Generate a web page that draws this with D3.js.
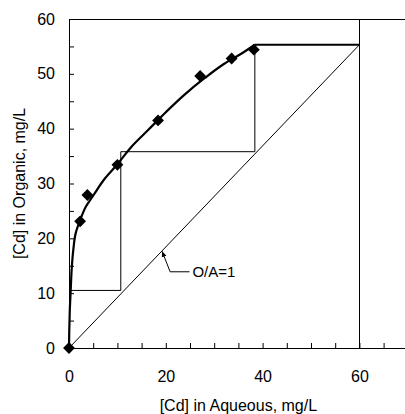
<!DOCTYPE html>
<html>
<head>
<meta charset="utf-8">
<script src="https://cdn.jsdelivr.net/npm/d3@7"></script>
<style>
  body { margin: 0; background: #fff; }
  svg { display: block; }
  text { font-family: "Liberation Sans", Arial, sans-serif; fill: #000; }
</style>
</head>
<body>
<div id="chart"></div>
<script>
// measured equilibrium points (Cd aqueous vs organic, mg/L)
const aqueous = [0, 2.3, 3.8, 10, 18.4, 27.1, 33.6, 38.2];
const organic = [0, 23.1, 27.9, 33.4, 41.5, 49.6, 52.8, 54.4];

// fitted isotherm
const curveX = [0, 0.05, 0.15, 0.35, 0.6, 0.9, 1.4, 2.3, 3.5, 5, 7.5, 10, 13, 16.4, 20, 24, 28, 32, 36, 38.4, 60];
const curveY = [0, 3, 6.5, 10.5, 15, 18, 21, 23.3, 25.8, 27.8, 31, 33.5, 36.8, 39.8, 43, 46.3, 49.2, 51.8, 53.9, 55.3, 55.3];

// operating line O/A = 1 and the stage construction
const opLineX = [0, 60];
const opLineY = [0, 55.3];
const stepX = [0.35, 10.7, 10.7, 38.4, 38.4];
const stepY = [10.5, 10.5, 35.8, 35.8, 55.3];
const feedX = 60;

const xTicks = d3.range(0, 71, 5);
const yTicks = d3.range(0, 61, 5);

const width = 405, height = 414;
const margin = {top: 19, left: 69};
const plotW = 338.8, plotH = 329;

const svg = d3.select('#chart').append('svg')
    .attr('width', width)
    .attr('height', height);

const x = d3.scaleLinear().domain([0, 70]).range([margin.left, margin.left + plotW]);
const y = d3.scaleLinear().domain([0, 60]).range([margin.top + plotH, margin.top]);

// axes
const xAxis = d3.axisBottom(x)
    .tickValues(xTicks)
    .tickSizeInner(-5)
    .tickSizeOuter(0)
    .tickPadding(23)
    .tickFormat(d => d % 20 === 0 ? d : '');

const yAxis = d3.axisLeft(y)
    .tickValues(yTicks)
    .tickSizeInner(-5)
    .tickSizeOuter(0)
    .tickPadding(14)
    .tickFormat(d => d % 10 === 0 ? d : '');

const gx = svg.append('g')
    .attr('transform', `translate(0,${y(0)})`)
    .call(xAxis);
gx.selectAll('text').attr('dy', '0.71em');

const gy = svg.append('g')
    .attr('transform', `translate(${x(0)},0)`)
    .call(yAxis);

svg.selectAll('.tick text')
    .style('font-family', '"Liberation Sans", Arial, sans-serif')
    .style('font-size', '16px')
    .attr('fill', '#000');
svg.selectAll('.domain, .tick line').attr('stroke', '#000');

// top border
svg.append('line')
    .attr('x1', x(0)).attr('x2', x(70))
    .attr('y1', Math.round(y(60)) + 0.5).attr('y2', Math.round(y(60)) + 0.5)
    .attr('stroke', '#000');

// feed line at 60 mg/L
svg.append('line')
    .attr('x1', Math.round(x(feedX)) + 0.5).attr('x2', Math.round(x(feedX)) + 0.5)
    .attr('y1', y(0)).attr('y2', y(60))
    .attr('stroke', '#000');

// operating line
svg.append('line')
    .attr('x1', x(opLineX[0])).attr('y1', y(opLineY[0]))
    .attr('x2', x(opLineX[1])).attr('y2', y(opLineY[1]))
    .attr('stroke', '#000')
    .attr('stroke-width', 1);

// stages
const stepPts = stepX.map((d, i) => [d, stepY[i]]);
svg.append('path')
    .attr('d', d3.line().x(d => x(d[0])).y(d => y(d[1]))(stepPts))
    .attr('fill', 'none')
    .attr('stroke', '#000')
    .attr('stroke-width', 1);

// isotherm
const curvePts = curveX.map((d, i) => [d, curveY[i]]);
svg.append('path')
    .attr('d', d3.line().x(d => x(d[0])).y(d => y(d[1])).curve(d3.curveMonotoneY)(curvePts.slice(0, -1)))
    .attr('fill', 'none')
    .attr('stroke', '#000')
    .attr('stroke-width', 2.2);
svg.append('path')
    .attr('d', d3.line().x(d => x(d[0])).y(d => y(d[1]))(curvePts.slice(-2)))
    .attr('fill', 'none')
    .attr('stroke', '#000')
    .attr('stroke-width', 2.2);

// data points as diamonds
const diamond = d3.symbol().type(d3.symbolSquare).size(70);
svg.selectAll('.pt')
    .data(aqueous.map((d, i) => [d, organic[i]]))
    .join('path')
    .attr('class', 'pt')
    .attr('d', diamond)
    .attr('transform', d => `translate(${x(d[0])},${y(d[1])}) rotate(45)`)
    .attr('fill', '#000');

// O/A=1 label with leader arrow
const tip = [19.25, 17.6], elbow = [20.9, 13.9], tail = [24.9, 13.9];
svg.append('defs').append('marker')
    .attr('id', 'arr')
    .attr('viewBox', '0 0 10 10')
    .attr('refX', 9).attr('refY', 5)
    .attr('markerWidth', 6).attr('markerHeight', 6)
    .attr('orient', 'auto-start-reverse')
    .append('path')
    .attr('d', 'M0,1 L10,5 L0,9 Z')
    .attr('fill', '#000');
svg.append('path')
    .attr('d', d3.line().x(d => x(d[0])).y(d => y(d[1]))([tail, elbow, tip]))
    .attr('fill', 'none')
    .attr('stroke', '#000')
    .attr('stroke-width', 1)
    .attr('marker-end', 'url(#arr)');
svg.append('text')
    .attr('x', x(25.5))
    .attr('y', y(13.9))
    .attr('dy', '0.35em')
    .style('font-size', '15px')
    .text('O/A=1');

// axis titles
svg.append('text')
    .attr('x', x(35))
    .attr('y', 411)
    .attr('text-anchor', 'middle')
    .style('font-size', '16px')
    .text('[Cd] in Aqueous, mg/L');

svg.append('text')
    .attr('transform', `translate(24.5,${y(30)}) rotate(-90)`)
    .attr('text-anchor', 'middle')
    .style('font-size', '16px')
    .text('[Cd] in Organic, mg/L');
</script>
</body>
</html>
